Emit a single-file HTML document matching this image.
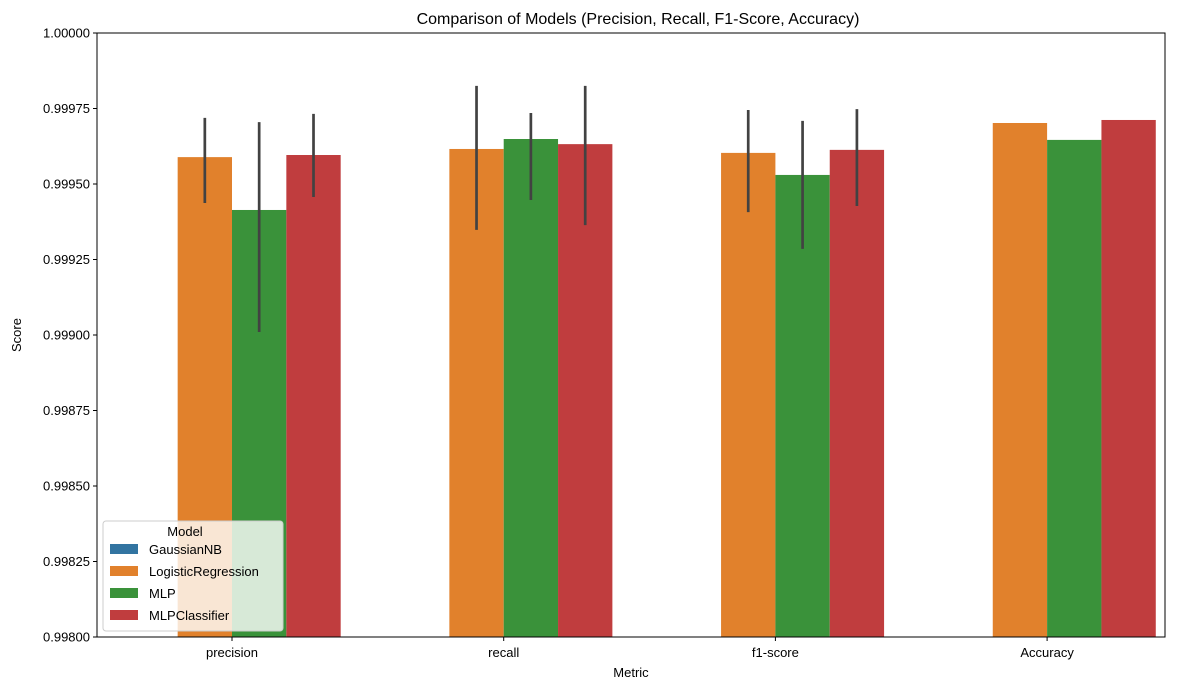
<!DOCTYPE html>
<html><head><meta charset="utf-8"><style>
body{margin:0;background:#fff;font-family:"Liberation Sans","DejaVu Sans",sans-serif}
svg text{font-family:"Liberation Sans","DejaVu Sans",sans-serif;fill:#000}
</style></head><body>
<svg id="chart" width="1189" height="690" viewBox="0 0 1189 690">
<rect width="1189" height="690" fill="#fff"/>
<text x="638" y="24" font-size="16" text-anchor="middle">Comparison of Models (Precision, Recall, F1-Score, Accuracy)</text>
<g id="bars"></g><g id="errs"></g>
<rect x="97" y="33" width="1068" height="604" fill="none" stroke="#000" stroke-width="1"/>
<g id="yaxis"></g><g id="xaxis"></g>
<text x="631" y="677" font-size="13" text-anchor="middle">Metric</text>
<text transform="translate(21,335) rotate(-90)" font-size="13" text-anchor="middle">Score</text>
<g id="legend"></g>
</svg>
<script>
const categories=["precision","recall","f1-score","Accuracy"];
const models=["GaussianNB","LogisticRegression","MLP","MLPClassifier"];
const colors=["#3274a1","#e1812c","#3a923a","#c03d3e"];
const gaussianVals=[0.99,0.99,0.99,0.99];
const logregVals=[0.999589,0.999616,0.999603,0.999702];
const mlpVals=[0.999414,0.999649,0.99953,0.999646];
const mlpcVals=[0.999596,0.999632,0.999613,0.999712];
const logregErrLo=[0.999437,0.999348,0.999407,null];
const logregErrHi=[0.999719,0.999825,0.999745,null];
const mlpErrLo=[0.99901,0.999447,0.999285,null];
const mlpErrHi=[0.999705,0.999735,0.999709,null];
const mlpcErrLo=[0.999457,0.999364,0.999427,null];
const mlpcErrHi=[0.999732,0.999825,0.999748,null];
const yTicks=[0.998,0.99825,0.9985,0.99875,0.999,0.99925,0.9995,0.99975,1.0];
const yTickLabels=["0.99800","0.99825","0.99850","0.99875","0.99900","0.99925","0.99950","0.99975","1.00000"];
const series=[gaussianVals,logregVals,mlpVals,mlpcVals];
const errLo=[null,logregErrLo,mlpErrLo,mlpcErrLo];
const errHi=[null,logregErrHi,mlpErrHi,mlpcErrHi];
const X0=97,X1=1165,Y0=33,Y1=637,ymin=0.998,ymax=1.0;
const NS="http://www.w3.org/2000/svg";
const y=v=>Y1-(v-ymin)/(ymax-ymin)*(Y1-Y0);
const step=271.7;
const cx=i=>232+step*i;
const bw=step*0.8/models.length;
const bx=(i,m)=>cx(i)-step*0.4+m*bw;
function mk(tag,attrs,parent){const e=document.createElementNS(NS,tag);for(const k in attrs)e.setAttribute(k,attrs[k]);document.getElementById(parent).appendChild(e);return e;}
categories.forEach((c,i)=>{
  series.forEach((s,m)=>{
    const top=Math.max(Y0,y(s[i]));
    if(top<Y1){
      const r=mk("rect",{x:bx(i,m),y:top,width:bw,height:Y1-top,fill:colors[m]},"bars");
      
      
    }
    if(errLo[m]&&errLo[m][i]!=null){
      const ex=bx(i,m)+bw/2;
      const l=mk("line",{x1:ex,x2:ex,y1:y(errHi[m][i]),y2:y(errLo[m][i]),stroke:"#424242","stroke-width":2.7},"errs");
      
      
    }
  });
  mk("line",{x1:cx(i),x2:cx(i),y1:Y1,y2:Y1+4,stroke:"#000"},"xaxis");
  const t=mk("text",{x:cx(i),y:Y1+20,"font-size":13,"text-anchor":"middle"},"xaxis");
  t.textContent=c;
  
  
});
yTicks.forEach((v,k)=>{
  mk("line",{x1:X0-4,x2:X0,y1:y(v),y2:y(v),stroke:"#000"},"yaxis");
  const t=mk("text",{x:X0-7,y:y(v)+4.5,"font-size":13,"text-anchor":"end"},"yaxis");
  t.textContent=yTickLabels[k];
  
  
});
const lb=mk("rect",{x:103,y:521,width:180,height:110,rx:3,fill:"#fff","fill-opacity":0.8,stroke:"#ccc"},"legend");


const lt=mk("text",{x:185,y:536,"font-size":13,"text-anchor":"middle"},"legend");
lt.textContent="Model";


models.forEach((m,k)=>{
  const yy=544+k*22;
  const p=mk("rect",{x:110,y:yy,width:28,height:10,fill:colors[k]},"legend");
  
  
  const t=mk("text",{x:149,y:yy+10,"font-size":13},"legend");
  t.textContent=m;
  
  
});
</script>
</body></html>
